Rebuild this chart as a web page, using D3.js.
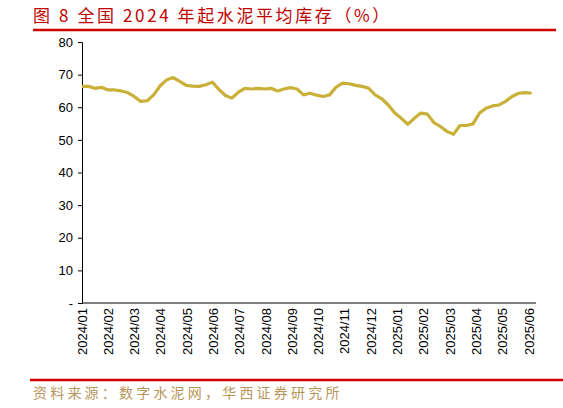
<!DOCTYPE html>
<html><head><meta charset="utf-8">
<script src="https://cdn.jsdelivr.net/npm/d3@7"></script>
<style>body{margin:0;background:#fff}</style></head>
<body><svg id="c" width="563" height="408"></svg>
<script>
const title = "图 8 全国 2024 年起水泥平均库存（%）";
const source = "资料来源：数字水泥网，华西证券研究所";
const monthLabels = ["2024/01","2024/02","2024/03","2024/04","2024/05","2024/06","2024/07","2024/08","2024/09","2024/10","2024/11","2024/12","2025/01","2025/02","2025/03","2025/04","2025/05","2025/06"];
const yTicks = [0,10,20,30,40,50,60,70,80];
const inventory = [66.4,66.4,65.8,66.1,65.3,65.3,65.0,64.5,63.3,61.8,62.0,63.8,66.6,68.4,69.1,67.9,66.7,66.5,66.4,66.9,67.7,65.5,63.6,62.8,64.6,65.8,65.6,65.8,65.6,65.8,65.0,65.6,66.0,65.6,63.8,64.3,63.7,63.3,63.8,66.2,67.4,67.2,66.7,66.4,65.8,63.8,62.6,60.7,58.2,56.6,54.8,56.6,58.2,57.9,55.3,54.1,52.6,51.7,54.4,54.4,54.9,58.2,59.7,60.4,60.7,61.8,63.3,64.3,64.5,64.3];
const svg = d3.select("#c");
const x = d3.scaleLinear().domain([0, monthLabels.length-1]).range([82,529]);
const xi = d3.scaleLinear().domain([0, inventory.length-1]).range([0, 17.1]);
const y = d3.scaleLinear().domain([0,80]).range([303,42]);
svg.append("text").attr("x",33).attr("y",22).attr("fill","#c00000").attr("font-size",17).attr("letter-spacing",2.6).attr("font-family","Noto Sans CJK SC").text(title);
svg.append("line").attr("x1",33).attr("x2",556).attr("y1",30).attr("y2",30).attr("stroke","#d00000").attr("stroke-width",2.5);
svg.append("line").attr("x1",30).attr("x2",563).attr("y1",380).attr("y2",380).attr("stroke","#d00000").attr("stroke-width",2.5);
svg.append("text").attr("x",33).attr("y",398).attr("fill","#b8965a").attr("font-size",14).attr("letter-spacing",3.2).attr("font-family","Noto Sans CJK SC").text(source);
const ya = svg.append("g").attr("transform","translate(82,0)").call(d3.axisLeft(y).tickValues(yTicks).tickSize(4).tickFormat(d=>d===0?"-":d));
ya.select(".domain").attr("stroke","#000");
ya.selectAll("text").attr("font-size",13).attr("font-family","Liberation Sans").attr("fill","#000").attr("dx",-2);
svg.append("line").attr("x1",82).attr("x2",536).attr("y1",303).attr("y2",303).attr("stroke","#000");
svg.append("g").selectAll("text").data(monthLabels).join("text")
 .attr("transform",(d,i)=>`translate(${x(i)+4.5},308) rotate(-90)`).attr("text-anchor","end")
 .attr("font-size",13).attr("font-family","Liberation Sans").attr("fill","#000").text(d=>d);
svg.append("path").datum(inventory).attr("fill","none").attr("stroke","#c9b038").attr("stroke-width",3.2).attr("stroke-linejoin","round")
 .attr("d", d3.line().x((d,i)=>x(xi(i))).y(d=>y(d)));
</script></body></html>
